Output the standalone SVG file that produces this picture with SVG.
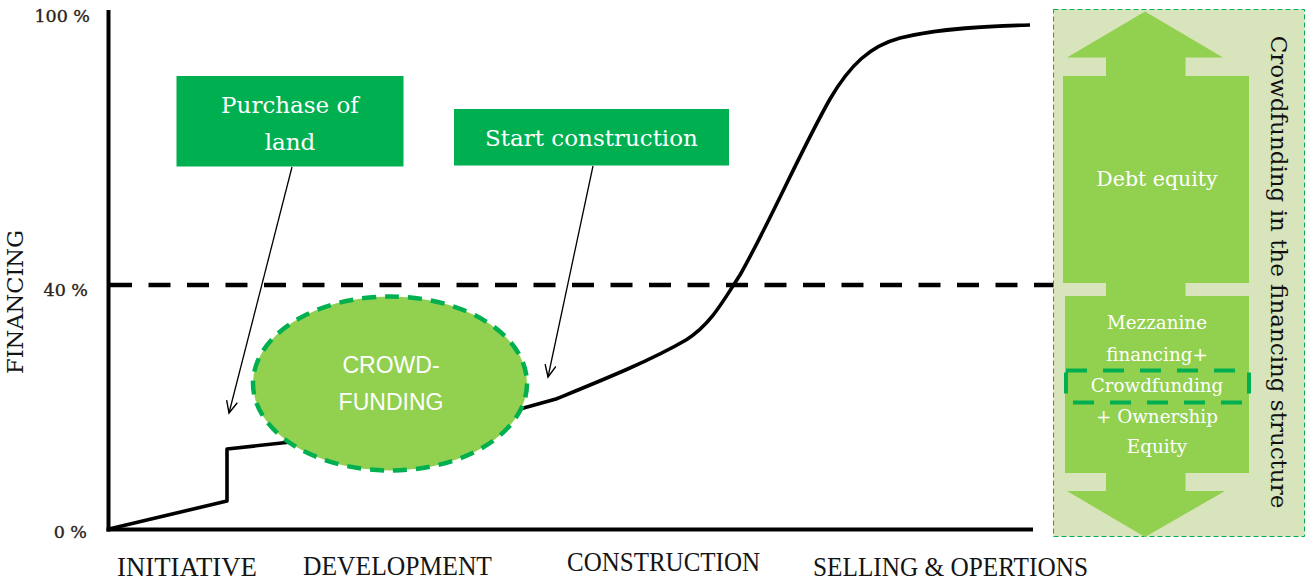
<svg xmlns="http://www.w3.org/2000/svg" width="1307" height="580" viewBox="0 0 1307 580">
  <style>
    .serif { font-family: "DejaVu Serif", "Liberation Serif", serif; }
    .box { fill: #00B050; }
    .boxtext { fill: #ffffff; font-size: 23px; text-anchor: middle; }
    .paneltext { fill: #ffffff; text-anchor: middle; }
    .tick { fill: #2a2218; font-size: 17.5px; text-anchor: end; stroke: #2a2218; stroke-width: 0.35; }
    .phase { font-family: "Liberation Serif", serif; font-size: 28px; fill: #141414; }
    .axis { stroke: #000; stroke-width: 4; fill: none; stroke-linecap: square; }
    .curve { stroke: #000; stroke-width: 3.6; fill: none; stroke-linejoin: round; }
    .pointer { stroke: #000; stroke-width: 1.3; fill: none; }
  </style>
  <defs>
    <marker id="openHead" markerUnits="userSpaceOnUse" markerWidth="16" markerHeight="14" refX="13" refY="6" orient="auto">
      <path d="M1,0.5 L13,6 L1,11.5" fill="none" stroke="#000" stroke-width="1.4"/>
    </marker>
  </defs>

  <!-- background -->
  <rect width="1307" height="580" fill="#ffffff"/>

  <!-- axes and reference line -->
  <g id="axes">
    <line class="axis" x1="108.5" y1="12" x2="108.5" y2="529.5"/>
    <line class="axis" x1="108.5" y1="529.5" x2="1031" y2="529.5"/>
    <line x1="110" y1="285" x2="1055" y2="285" stroke="#000" stroke-width="4.5" stroke-dasharray="22 16.5"/>
    <text class="serif tick" x="90" y="22">100 %</text>
    <text class="serif tick" x="88" y="296">40 %</text>
    <text class="serif tick" x="87" y="538">0 %</text>
    <text class="serif" font-size="22.5" fill="#141414" text-anchor="middle" transform="translate(23 302) rotate(-90)">FINANCING</text>
  </g>

  <!-- phase labels -->
  <g id="phases">
    <text class="phase" x="117" y="576" textLength="140" lengthAdjust="spacingAndGlyphs">INITIATIVE</text>
    <text class="phase" x="303" y="575" textLength="189" lengthAdjust="spacingAndGlyphs">DEVELOPMENT</text>
    <text class="phase" x="567" y="571" textLength="193" lengthAdjust="spacingAndGlyphs">CONSTRUCTION</text>
    <text class="phase" x="813" y="576" textLength="275" lengthAdjust="spacingAndGlyphs">SELLING &amp; OPERTIONS</text>
  </g>

  <!-- financing curve -->
  <g id="curve">
    <path class="curve" d="M109,529 L227,501 L227,449 L300,441"/>
    <path class="curve" d="M520,409 L556,399 C600,381 650,361 686,340 C710,325 722,303 740,275 C770,222 800,152 830,99 C850,65 870,46 900,38 C940,28 990,26 1030,25"/>
  </g>

  <!-- crowdfunding ellipse -->
  <g id="crowdfunding">
    <ellipse cx="390" cy="383.5" rx="137" ry="87" fill="#92D050" stroke="#00B050" stroke-width="4.5" stroke-dasharray="14 9"/>
    <text font-family="'Liberation Sans', Arial, sans-serif" font-size="23" fill="#ffffff" text-anchor="middle" x="391" y="373">CROWD-</text>
    <text font-family="'Liberation Sans', Arial, sans-serif" font-size="23" fill="#ffffff" text-anchor="middle" x="391" y="410">FUNDING</text>
  </g>

  <!-- milestone boxes -->
  <g id="purchase-of-land">
    <rect class="box" x="176.5" y="76" width="227" height="90.5"/>
    <text class="serif boxtext" x="290" y="113">Purchase of</text>
    <text class="serif boxtext" x="290" y="150">land</text>
  </g>
  <g id="start-construction">
    <rect class="box" x="454" y="109" width="275" height="56.5"/>
    <text class="serif boxtext" x="591.5" y="146">Start construction</text>
  </g>

  <!-- pointers from boxes to the curve -->
  <g id="connectors">
    <line class="pointer" x1="292" y1="167" x2="229" y2="413" marker-end="url(#openHead)"/>
    <line class="pointer" x1="593" y1="166" x2="548" y2="377" marker-end="url(#openHead)"/>
  </g>

  <!-- financing structure panel -->
  <g id="financing-structure">
    <rect x="1053.5" y="9.5" width="251" height="527" fill="#D8E4BC" stroke="#00B050" stroke-width="1" stroke-dasharray="5 3"/>
    <polygon fill="#92D050" points="1145,11.5 1223,57.5 1185.5,57.5 1185.5,491 1225,491 1145,537 1067,491 1106,491 1106,57.5 1067,57.5"/>
    <rect x="1063" y="76" width="186" height="207" fill="#92D050"/>
    <rect x="1065" y="296" width="184" height="177" fill="#92D050"/>
    <text class="serif paneltext" font-size="20.5" x="1157" y="186">Debt equity</text>
    <text class="serif paneltext" font-size="18.3" x="1157" y="329">Mezzanine</text>
    <text class="serif paneltext" font-size="18.3" x="1157" y="361">financing+</text>
    <text class="serif paneltext" font-size="18.3" x="1157" y="392">Crowdfunding</text>
    <text class="serif paneltext" font-size="18.3" x="1157" y="423">+ Ownership</text>
    <text class="serif paneltext" font-size="18.3" x="1157" y="453">Equity</text>
    <rect x="1066" y="370.5" width="183" height="32" fill="none" stroke="#00B050" stroke-width="4" stroke-dasharray="21 16"/>
    <text class="serif" font-size="23" fill="#111" text-anchor="middle" transform="translate(1271 272) rotate(90)">Crowdfunding in the financing structure</text>
  </g>
</svg>
